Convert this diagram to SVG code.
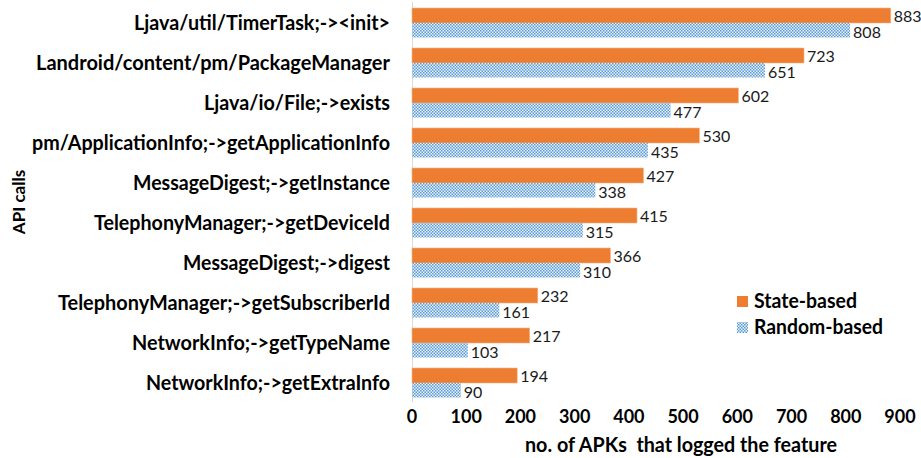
<svg xmlns="http://www.w3.org/2000/svg" width="921" height="458" viewBox="0 0 921 458">
<style>
.cat{font-family:Lato,"Liberation Sans",sans-serif;font-weight:bold;font-size:21px;fill:#000;text-anchor:end}
.val{font-family:Lato,"Liberation Sans",sans-serif;font-size:16px;fill:#1a1a1a}
.tick{font-family:Lato,"Liberation Sans",sans-serif;font-weight:bold;font-size:18px;fill:#000;text-anchor:middle}
.ttl{font-family:Lato,"Liberation Sans",sans-serif;font-weight:bold;font-size:21px;fill:#000;white-space:pre}
.leg{font-family:Lato,"Liberation Sans",sans-serif;font-weight:bold;font-size:21px;fill:#000}
.st{fill:#ED7D31;stroke:#F6B58A;stroke-width:0.6}
.rb{fill:url(#chk)}
</style>
<defs>
<pattern id="chk" patternUnits="userSpaceOnUse" width="3" height="3">
<rect width="3" height="3" fill="#eaf2fa"/>
<rect x="0" y="0" width="1.5" height="1.5" fill="#5B9BD5"/>
<rect x="1.5" y="1.5" width="1.5" height="1.5" fill="#5B9BD5"/>
</pattern>
</defs>
<rect width="921" height="458" fill="#fff"/>
<g id="axes">
<line x1="412.5" y1="2" x2="412.5" y2="402" stroke="#d9d9d9" stroke-width="1"/>
<text class="tick" x="412" y="423">0</text>
<text class="tick" x="466.2" y="423">100</text>
<text class="tick" x="520.4" y="423">200</text>
<text class="tick" x="574.7" y="423">300</text>
<text class="tick" x="628.9" y="423">400</text>
<text class="tick" x="683.1" y="423">500</text>
<text class="tick" x="737.3" y="423">600</text>
<text class="tick" x="791.6" y="423">700</text>
<text class="tick" x="845.8" y="423">800</text>
<text class="tick" x="900" y="423">900</text>
<text class="ttl" x="525" y="452" textLength="312" lengthAdjust="spacingAndGlyphs">no. of APKs  that logged the feature</text>
<text class="leg" transform="translate(24.5,202) rotate(-90)" text-anchor="middle" style="font-size:17px">API calls</text>
</g>
<g id="cat-1">
<text class="cat" x="390" y="30" textLength="256" lengthAdjust="spacingAndGlyphs">Ljava/util/TimerTask;-&gt;&lt;init&gt;</text>
<rect class="st" x="412" y="8" width="478.8" height="15"/>
<rect class="rb" x="412" y="23" width="438.1" height="14.5"/>
<text class="val" x="893.8" y="22">883</text>
<text class="val" x="853.1" y="37.5">808</text>
</g>
<g id="cat-2">
<text class="cat" x="390" y="70" textLength="354" lengthAdjust="spacingAndGlyphs">Landroid/content/pm/PackageManager</text>
<rect class="st" x="412" y="48" width="392" height="15"/>
<rect class="rb" x="412" y="63" width="353" height="14.5"/>
<text class="val" x="807" y="62">723</text>
<text class="val" x="768" y="77.5">651</text>
</g>
<g id="cat-3">
<text class="cat" x="390" y="110" textLength="186" lengthAdjust="spacingAndGlyphs">Ljava/io/File;-&gt;exists</text>
<rect class="st" x="412" y="88" width="326.4" height="15"/>
<rect class="rb" x="412" y="103" width="258.6" height="14.5"/>
<text class="val" x="741.4" y="102">602</text>
<text class="val" x="673.6" y="117.5">477</text>
</g>
<g id="cat-4">
<text class="cat" x="390" y="150" textLength="358" lengthAdjust="spacingAndGlyphs">pm/ApplicationInfo;-&gt;getApplicationInfo</text>
<rect class="st" x="412" y="128" width="287.4" height="15"/>
<rect class="rb" x="412" y="143" width="235.9" height="14.5"/>
<text class="val" x="702.4" y="142">530</text>
<text class="val" x="650.9" y="157.5">435</text>
</g>
<g id="cat-5">
<text class="cat" x="390" y="190" textLength="257" lengthAdjust="spacingAndGlyphs">MessageDigest;-&gt;getInstance</text>
<rect class="st" x="412" y="168" width="231.5" height="15"/>
<rect class="rb" x="412" y="183" width="183.3" height="14.5"/>
<text class="val" x="646.5" y="182">427</text>
<text class="val" x="598.3" y="197.5">338</text>
</g>
<g id="cat-6">
<text class="cat" x="390" y="230" textLength="296" lengthAdjust="spacingAndGlyphs">TelephonyManager;-&gt;getDeviceId</text>
<rect class="st" x="412" y="208" width="225" height="15"/>
<rect class="rb" x="412" y="223" width="170.8" height="14.5"/>
<text class="val" x="640" y="222">415</text>
<text class="val" x="585.8" y="237.5">315</text>
</g>
<g id="cat-7">
<text class="cat" x="390" y="270" textLength="207" lengthAdjust="spacingAndGlyphs">MessageDigest;-&gt;digest</text>
<rect class="st" x="412" y="248" width="198.5" height="15"/>
<rect class="rb" x="412" y="263" width="168.1" height="14.5"/>
<text class="val" x="613.5" y="262">366</text>
<text class="val" x="583.1" y="277.5">310</text>
</g>
<g id="cat-8">
<text class="cat" x="390" y="310" textLength="332" lengthAdjust="spacingAndGlyphs">TelephonyManager;-&gt;getSubscriberId</text>
<rect class="st" x="412" y="288" width="125.8" height="15"/>
<rect class="rb" x="412" y="303" width="87.3" height="14.5"/>
<text class="val" x="540.8" y="302">232</text>
<text class="val" x="502.3" y="317.5">161</text>
</g>
<g id="cat-9">
<text class="cat" x="390" y="350" textLength="258" lengthAdjust="spacingAndGlyphs">NetworkInfo;-&gt;getTypeName</text>
<rect class="st" x="412" y="328" width="117.7" height="15"/>
<rect class="rb" x="412" y="343" width="55.8" height="14.5"/>
<text class="val" x="532.7" y="342">217</text>
<text class="val" x="470.8" y="357.5">103</text>
</g>
<g id="cat-10">
<text class="cat" x="390" y="390" textLength="244" lengthAdjust="spacingAndGlyphs">NetworkInfo;-&gt;getExtraInfo</text>
<rect class="st" x="412" y="368" width="105.2" height="15"/>
<rect class="rb" x="412" y="383" width="48.8" height="14.5"/>
<text class="val" x="520.2" y="382">194</text>
<text class="val" x="463.8" y="397.5">90</text>
</g>
<g id="legend">
<rect x="737" y="296" width="11" height="11" fill="#ED7D31"/>
<text class="leg" x="754" y="307.5" textLength="103" lengthAdjust="spacingAndGlyphs">State-based</text>
<rect x="737" y="322" width="11" height="11" fill="url(#chk)"/>
<text class="leg" x="754" y="333.5" textLength="129" lengthAdjust="spacingAndGlyphs">Random-based</text>
</g>
<g id="connectors"></g>
</svg>
